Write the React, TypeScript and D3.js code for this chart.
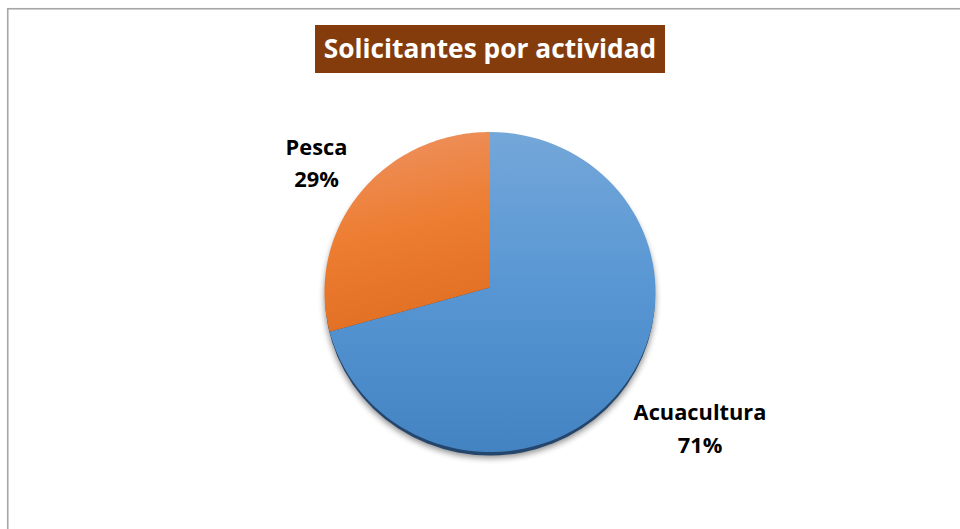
import React from "react";
import * as d3 from "d3";

const categories = ["Acuacultura", "Pesca"];
const values = [71, 29];
const percentLabels = ["71%", "29%"];
const titleText = "Solicitantes por actividad";

const W = 960;
const H = 529;

export default function App() {
  const cx = 490;
  const cy = 292;
  const rx = 165.5;
  const ry = 160;
  const vx = 490;
  const vy = 287.5;

  const pie = d3.pie<number>().sort(null).value((d) => d);
  const arcs = pie(values);

  const pt = (a: number) => [cx + rx * Math.sin(a), cy - ry * Math.cos(a)];

  const slicePath = (a0: number, a1: number) => {
    const p = d3.path();
    const [x0, y0] = pt(a0);
    p.moveTo(vx, vy);
    p.lineTo(x0, y0);
    const n = 90;
    for (let i = 1; i <= n; i++) {
      const a = a0 + ((a1 - a0) * i) / n;
      const [x, y] = pt(a);
      p.lineTo(x, y);
    }
    p.closePath();
    return p.toString();
  };

  const gradIds = ["gBlue", "gOrange"];

  const labelPos = [
    { x: 700, y1: 420, y2: 453 },
    { x: 316.5, y1: 155, y2: 187 },
  ];

  return (
    <svg
      width={W}
      height={H}
      style={{ position: "absolute", left: 0, top: 0, background: "#fff" }}
      fontFamily="'Open Sans', Lato, sans-serif"
    >
      <defs>
        <linearGradient id="gBlue" x1="0" y1="0" x2="0" y2="1">
          <stop offset="0" stopColor="#74a7d9" />
          <stop offset="0.5" stopColor="#5796d3" />
          <stop offset="1" stopColor="#4483c2" />
        </linearGradient>
        <linearGradient id="gOrange" x1="0.3" y1="0" x2="0.5" y2="1">
          <stop offset="0" stopColor="#ed9160" />
          <stop offset="0.5" stopColor="#ed7d31" />
          <stop offset="1" stopColor="#e06e23" />
        </linearGradient>
        <filter id="blur" x="-20%" y="-20%" width="140%" height="140%">
          <feGaussianBlur stdDeviation="3" />
        </filter>
      </defs>

      <rect x={7.75} y={8.75} width={W + 20} height={H + 20} fill="#fff" stroke="#a6a6a6" strokeWidth={1.6} />

      <rect x={315} y={25} width={350} height={48} fill="#843c0c" />
      <text x={490} y={57.5} textAnchor="middle" fill="#fff" fontWeight="bold" fontSize={26.3}>
        {titleText}
      </text>

      <ellipse cx={cx} cy={cy + 6} rx={rx} ry={ry} fill="#000" opacity={0.45} filter="url(#blur)" />
      <ellipse cx={cx} cy={cy + 3.5} rx={rx - 0.5} ry={ry} fill="#24466c" />

      {arcs.map((a, i) => (
        <path key={categories[i]} d={slicePath(a.startAngle, a.endAngle)} fill={`url(#${gradIds[i]})`} />
      ))}

      {categories.map((c, i) => (
        <text key={c} textAnchor="middle" fontWeight="bold" fontSize={21.8} fill="#000">
          <tspan x={labelPos[i].x} y={labelPos[i].y1}>{c}</tspan>
          <tspan x={labelPos[i].x} y={labelPos[i].y2}>{percentLabels[i]}</tspan>
        </text>
      ))}
    </svg>
  );
}
